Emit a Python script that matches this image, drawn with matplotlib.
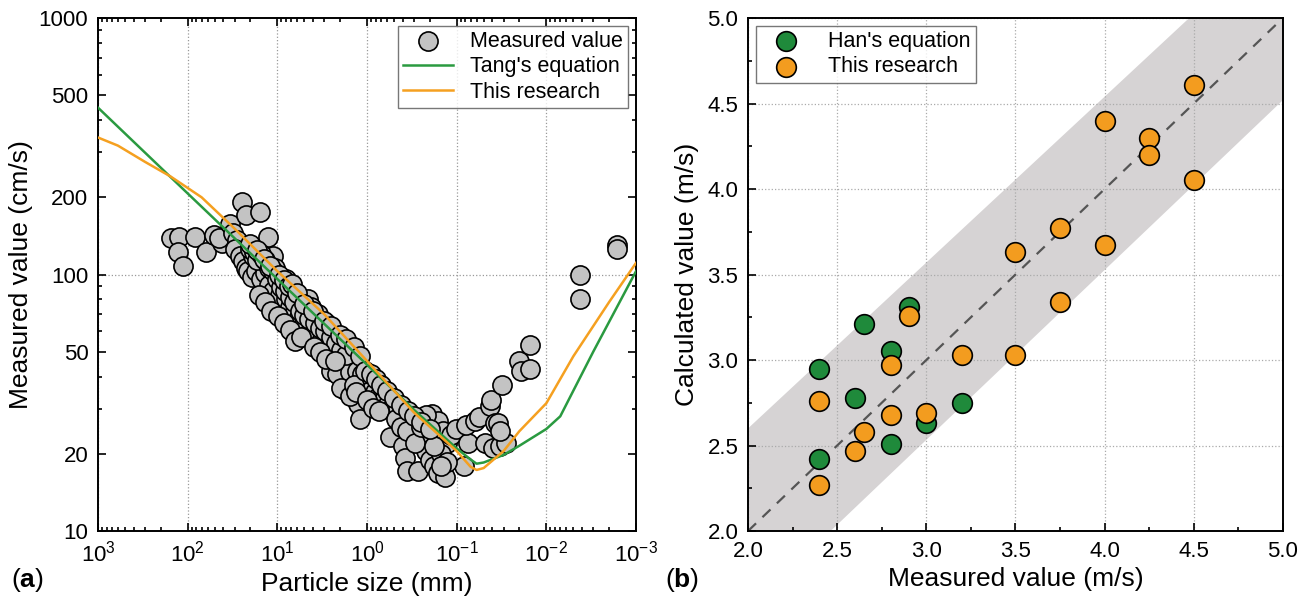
import matplotlib
matplotlib.use("Agg")
import matplotlib.pyplot as plt
from matplotlib.ticker import FixedLocator, LogLocator, NullFormatter, MultipleLocator, FuncFormatter

plt.rcParams["font.family"] = ["Liberation Sans", "DejaVu Sans"]
plt.rcParams["mathtext.fontset"] = "custom"
plt.rcParams["mathtext.rm"] = "Liberation Sans"
plt.rcParams["mathtext.bf"] = "Liberation Sans:bold"

# ── panel (a): measured settling velocity vs particle size ─────────────────────
meas_size = [154, 124, 127, 114, 82, 62, 51, 41, 45, 34, 31, 28, 25, 22.5, 15.7,
             29.5, 26.4, 24.3, 22.5, 21, 19.1, 17.1, 18.5, 16.2, 12.6, 14.5, 15.3,
             13.8, 12.4, 11.1, 10.5, 9.9, 11.1, 9.4, 8.9, 8.0, 7.2, 8.0, 6.8, 6.4,
             5.8, 6.1, 5.2, 4.6, 4.2, 4.4, 3.7, 3.5, 3.2, 2.85, 2.7, 2.4, 2.55,
             2.17, 1.74, 2.05, 1.84, 1.65, 1.48, 1.40, 1.56, 1.26, 1.19, 1.13, 1.0,
             0.91, 0.81, 0.73, 0.65, 0.59, 0.53, 0.45, 0.56, 0.40, 0.38, 0.36, 0.27,
             0.32, 0.27, 0.25, 0.22, 0.20, 0.18, 0.16, 0.135, 0.19, 0.16, 0.143,
             0.128, 0.115, 0.103, 0.083, 0.074, 0.079, 0.063, 0.057, 0.048, 0.043,
             0.041, 0.037, 0.039, 0.033, 0.031, 0.020, 0.019, 0.0154, 0.0154,
             0.0042, 0.0042, 0.00165, 0.00165,
             20.1, 18.1, 16.7, 15.3, 13.8, 12.4, 11.3, 10.2, 9.1, 8.2, 7.3, 6.5,
             5.65, 5.06, 4.4, 3.8, 3.35, 2.94, 2.55, 2.21, 1.94, 1.71, 1.29, 1.15,
             16.2, 13.8, 11.7, 9.9, 8.4, 7.2, 6.4, 5.5, 3.95, 3.35, 2.85, 2.29,
             1.94, 1.56, 1.40, 1.33,
             1.0, 0.86, 0.73, 0.47, 0.42, 0.36, 0.29, 0.25, 0.22, 0.15, 0.18,
             0.128, 0.15, 0.028, 0.035, 0.033,
             20, 17, 14, 12, 9.5, 8.5, 7.5, 6.8, 6.0, 5.0, 4.0, 3.0, 2.5, 2.0,
             1.7, 1.4, 1.2, 1.05, 0.9, 0.8, 0.7, 0.6, 0.5, 0.42, 0.35, 0.3, 0.25, 0.2]
meas_vel = [139, 140, 122, 108, 140, 122, 142, 133, 139, 157, 145, 136, 192, 170, 176,
            126, 118, 113, 106, 103, 98, 103, 118, 126, 140, 110, 96,
            101, 91, 118, 106, 99, 86, 83, 92, 80, 75, 96, 86, 72,
            68, 79, 63, 80, 75, 59, 61, 70, 56, 65, 59, 55, 42,
            41, 35.5, 49, 53, 52, 48, 44, 41.5, 31.4, 27.3, 38, 37,
            36, 34.8, 33.6, 32.5, 31.4, 30.3, 30.3, 23.3, 21.4, 19.3, 17.2, 17.2,
            25.4, 25.9, 22.1, 20.6, 19.0, 18.0, 16.8, 16.2, 28.7, 26.8, 24.6,
            22.1, 23.7, 25.0, 17.9, 22.1, 25.9, 26.8, 27.8, 22.1, 30.8,
            32.3, 26.3, 21.1, 21.5, 37, 46, 42, 53, 43,
            100, 80, 130, 126,
            126, 122, 114, 120, 114, 106, 103, 96, 89, 86, 82, 78,
            72, 69.5, 67, 65, 62, 60, 57, 54, 51, 48.5, 42, 41,
            83, 78, 72, 69, 65, 61, 55, 57, 52, 50, 47, 46,
            36, 33.6, 37, 34.8,
            32.5, 30.3, 29.3, 27.3, 25.4, 24.6, 22.1, 25.4, 28.3, 20, 21.4,
            18.6, 17.9, 22.1, 26.3, 24.6,
            132, 125, 115, 108, 100, 95, 90, 92, 85, 77, 72, 66, 63, 58,
            56, 52, 48, 42, 41, 39, 37, 35, 33, 31, 29.5, 28, 26.5, 25]

tang_size = [1000, 100, 10, 1, 0.3, 0.1, 0.07, 0.06, 0.05, 0.03, 0.02, 0.01, 0.007, 0.003, 0.001]
tang_vel = [447, 207, 96, 44.5, 29.7, 21, 19, 18.3, 18.5, 19.8, 21.5, 25, 28, 50, 103]

ours_size = [1000, 600, 300, 155, 70, 30, 10, 3, 1, 0.3, 0.1, 0.07, 0.06, 0.05,
             0.03, 0.02, 0.01, 0.005, 0.002, 0.001]
ours_vel = [342, 318, 275, 241, 200, 151, 103, 70, 46, 29, 20.5, 17.8, 17.3, 17.6,
            20.5, 24.5, 31.5, 48, 78, 111]

# ── panel (b): calculated vs measured (m/s) ────────────────────────────────────
han_meas = [2.4, 2.4, 2.65, 2.6, 2.8, 2.8, 2.9, 3.0, 3.2]
han_calc = [2.95, 2.42, 3.21, 2.78, 3.05, 2.51, 3.31, 2.63, 2.75]

ours_meas = [2.4, 2.4, 2.6, 2.65, 2.8, 2.8, 2.9, 3.0, 3.2, 3.5, 3.5, 3.75, 3.75,
             4.0, 4.0, 4.25, 4.25, 4.5, 4.5]
ours_calc = [2.76, 2.27, 2.47, 2.58, 2.97, 2.68, 3.26, 2.69, 3.03, 3.03, 3.63, 3.77,
             3.34, 4.40, 3.67, 4.30, 4.20, 4.05, 4.61]

band_x = [2.0, 5.0]
band_hi = [2.6, 5.51]
band_lo = [1.54, 4.52]

GREEN = "#1f8a3b"
ORANGE = "#f39c1f"
GREY_FACE = "#c3c3c3"
LEG_KW = dict(fontsize=15.5, frameon=True, fancybox=False, edgecolor="#555555",
              borderpad=0.25, handletextpad=0.8, labelspacing=0.2, borderaxespad=0.35,
              handlelength=2.3)


def _ticks(ax, right=True, top=True):
    ax.tick_params(which="both", direction="in", top=top, right=right, labelsize=16, width=1.2)
    ax.tick_params(which="major", length=6, pad=7)
    ax.tick_params(which="minor", length=3)
    for s in ax.spines.values():
        s.set_linewidth(1.4)


fig = plt.figure(figsize=(13.16, 6.08), dpi=100)
ax1 = fig.add_axes([0.0745, 0.1266, 0.4088, 0.8438])
ax2 = fig.add_axes([0.5684, 0.1266, 0.4065, 0.8438])

# (a)
ax1.set_xscale("log")
ax1.set_yscale("log")
ax1.set_xlim(1e3, 1e-3)
ax1.set_ylim(10, 1000)
ax1.grid(True, which="major", axis="x", linestyle=":", color="#999999", linewidth=0.9)
ax1.axhline(100, linestyle=":", color="#999999", linewidth=0.9, zorder=0)
ax1.scatter(meas_size, meas_vel, s=190, facecolor=GREY_FACE, edgecolor="black",
            linewidth=1.2, zorder=3, label="Measured value")
ax1.plot(tang_size, tang_vel, color="#2a9a40", linewidth=1.8, zorder=4, label="Tang's equation")
ax1.plot(ours_size, ours_vel, color="#f5a020", linewidth=1.8, zorder=4, label="This research")
ax1.yaxis.set_major_locator(FixedLocator([10, 20, 50, 100, 200, 500, 1000]))
ax1.yaxis.set_major_formatter(FuncFormatter(lambda v, p: f"{v:g}"))
ax1.yaxis.set_minor_locator(LogLocator(base=10, subs=(3, 4, 6, 7, 8, 9)))
ax1.yaxis.set_minor_formatter(NullFormatter())
ax1.xaxis.set_major_locator(LogLocator(base=10, numticks=10))
ax1.xaxis.set_minor_locator(LogLocator(base=10, subs=range(2, 10), numticks=20))
ax1.xaxis.set_minor_formatter(NullFormatter())
_ticks(ax1)
ax1.set_xlabel("Particle size (mm)", fontsize=19, labelpad=4)
ax1.set_ylabel("Measured value (cm/s)", fontsize=19, labelpad=4)
ax1.legend(loc="upper right", **LEG_KW)

# (b)
ax2.fill_between(band_x, band_lo, band_hi, color="#d6d3d4", linewidth=0, zorder=0)
ax2.plot([2.0, 5.0], [2.0, 5.0], color="#555555", linestyle=(0, (5, 4)), linewidth=1.6, zorder=1)
ax2.grid(True, which="major", linestyle=":", color="#aaaaaa", linewidth=0.9)
ax2.set_axisbelow(True)
ax2.scatter(han_meas, han_calc, s=200, facecolor=GREEN, edgecolor="black",
            linewidth=1.2, zorder=3, label="Han's equation")
ax2.scatter(ours_meas, ours_calc, s=200, facecolor=ORANGE, edgecolor="black",
            linewidth=1.2, zorder=4, label="This research")
ax2.set_xlim(2.0, 5.0)
ax2.set_ylim(2.0, 5.0)
ax2.xaxis.set_major_locator(MultipleLocator(0.5))
ax2.yaxis.set_major_locator(MultipleLocator(0.5))
ax2.xaxis.set_minor_locator(MultipleLocator(0.25))
ax2.yaxis.set_minor_locator(MultipleLocator(0.25))
_ticks(ax2, right=False, top=False)
ax2.set_xlabel("Measured value (m/s)", fontsize=19, labelpad=4)
ax2.set_ylabel("Calculated value (m/s)", fontsize=19, labelpad=6)
ax2.legend(loc="upper left", **LEG_KW)

fig.text(0.008, 0.035, r"($\mathbf{a}$)", fontsize=19)
fig.text(0.505, 0.035, r"($\mathbf{b}$)", fontsize=19)

fig.savefig("out.png", dpi=100)
